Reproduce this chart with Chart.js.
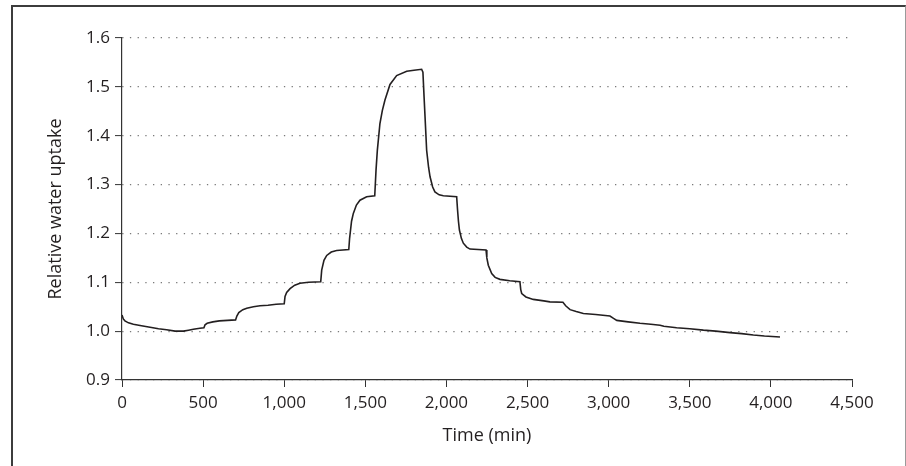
<!DOCTYPE html>
<html>
<head>
<meta charset="utf-8">
<script src="https://cdn.jsdelivr.net/npm/chart.js@4"></script>
<style>
  body { margin: 0; background: #fff; }
  #wrap { position: relative; width: 906px; height: 466px; overflow: hidden; }
  #frame {
    position: absolute; left: 11px; top: 5px; width: 892px; height: 500px;
    border-left: 2px solid #3c3c3c; border-top: 2px solid #3c3c3c; border-right: 1px solid #9a9a9a;
  }
  canvas { position: absolute; left: 0; top: 0; }
</style>
</head>
<body>
<div id="wrap">
  <div id="frame"></div>
  <canvas id="myChart-Uptake" width="906" height="466"></canvas>
</div>
<script>
// values
const timeMin = [0, 8, 18, 40, 70, 120, 173, 225, 275, 327, 378, 410, 440, 480, 505, 512, 525, 560, 600, 650,
  700, 708, 720, 745, 769, 810, 851, 900, 950, 1000, 1005, 1015, 1036, 1065, 1097, 1150, 1225, 1231, 1245, 1262,
  1290, 1323, 1398, 1403, 1415, 1426, 1445, 1467, 1508, 1558, 1566, 1574, 1590, 1605, 1621, 1652, 1693, 1755, 1800, 1847,
  1855, 1862, 1868, 1878, 1890, 1899, 1915, 1929, 1955, 1981, 2063, 2068, 2074, 2080, 2092, 2104, 2125, 2145, 2244, 2249,
  2258, 2279, 2300, 2330, 2390, 2453, 2458, 2464, 2490, 2535, 2600, 2638, 2718, 2735, 2762, 2800, 2844, 2920, 3008, 3030,
  3050, 3120, 3193, 3260, 3317, 3340, 3419, 3500, 3584, 3660, 3748, 3820, 3892, 3960, 4056];
const uptake = [1.033, 1.025, 1.021, 1.017, 1.014, 1.011, 1.008, 1.005, 1.003, 1.000, 1.000, 1.002, 1.004, 1.006, 1.007, 1.013, 1.016, 1.019, 1.021, 1.022,
  1.023, 1.031, 1.038, 1.044, 1.047, 1.050, 1.052, 1.053, 1.055, 1.056, 1.071, 1.079, 1.087, 1.094, 1.098, 1.100, 1.101, 1.125, 1.145, 1.155,
  1.162, 1.165, 1.167, 1.190, 1.225, 1.241, 1.258, 1.268, 1.275, 1.277, 1.330, 1.370, 1.425, 1.452, 1.473, 1.505, 1.523, 1.532, 1.534, 1.536,
  1.530, 1.480, 1.439, 1.370, 1.335, 1.316, 1.295, 1.285, 1.279, 1.277, 1.275, 1.250, 1.225, 1.207, 1.190, 1.180, 1.172, 1.168, 1.166, 1.150,
  1.135, 1.118, 1.110, 1.106, 1.103, 1.101, 1.085, 1.077, 1.070, 1.065, 1.062, 1.060, 1.059, 1.052, 1.044, 1.040, 1.036, 1.034, 1.031, 1.026,
  1.022, 1.019, 1.016, 1.014, 1.012, 1.010, 1.007, 1.005, 1.002, 1.000, 0.997, 0.995, 0.992, 0.990, 0.988];

const xTicks = [0, 500, 1000, 1500, 2000, 2500, 3000, 3500, 4000, 4500];
const xTickLabels = ['0', '500', '1,000', '1,500', '2,000', '2,500', '3,000', '3,500', '4,000', '4,500'];
const yTicks = [0.9, 1.0, 1.1, 1.2, 1.3, 1.4, 1.5, 1.6];
const yTickLabels = ['0.9', '1.0', '1.1', '1.2', '1.3', '1.4', '1.5', '1.6'];

const ink = '#231f20';
const tickFont = { family: 'Open Sans', size: 17 };
const titleFont = { family: 'Open Sans', size: 18 };

const ctxUptake = document.getElementById('myChart-Uptake');

new Chart(ctxUptake, {
  type: 'scatter',
  data: {
    datasets: [{
      label: 'Relative water uptake',
      data: timeMin.map((t, i) => ({ x: t, y: uptake[i] })),
      showLine: true,
      borderColor: ink,
      borderWidth: 1.6,
      pointRadius: 0,
      tension: 0,
      fill: false
    }]
  },
  options: {
    responsive: false,
    animation: false,
    layout: { padding: { left: 41, top: 38, right: 54, bottom: 15 } },
    plugins: { legend: { display: false }, tooltip: { enabled: false } },
    scales: {
      x: {
        type: 'linear',
        min: 0,
        max: 4500,
        afterBuildTicks: s => { s.ticks = xTicks.map(v => ({ value: v })); },
        afterFit: s => { s.height = 71; },
        ticks: {
          color: ink,
          font: tickFont,
          padding: 6,
          maxRotation: 0,
          autoSkip: false,
          callback: (v, i) => xTickLabels[i]
        },
        grid: { drawOnChartArea: false, drawTicks: true, tickLength: 7, tickColor: '#333', tickWidth: 1 },
        border: { color: '#333', width: 1.2 },
        title: { display: true, text: 'Time (min)', color: ink, font: titleFont, padding: { top: 4, bottom: 4 } }
      },
      y: {
        min: 0.9,
        max: 1.6,
        afterBuildTicks: s => { s.ticks = yTicks.map(v => ({ value: v })); },
        afterFit: s => { s.width = 81; },
        ticks: {
          color: ink,
          font: tickFont,
          padding: 5,
          autoSkip: false,
          callback: (v, i) => yTickLabels[i]
        },
        grid: { color: '#7a7a7a', lineWidth: 1.2, drawTicks: true, tickLength: 7, tickColor: '#333', tickWidth: 1 },
        border: { color: '#333', width: 1.2, dash: [1.3, 6.4] },
        title: { display: true, text: 'Relative water uptake', color: ink, font: titleFont, padding: { top: 4, bottom: 4 } }
      }
    }
  }
});
</script>
</body>
</html>
